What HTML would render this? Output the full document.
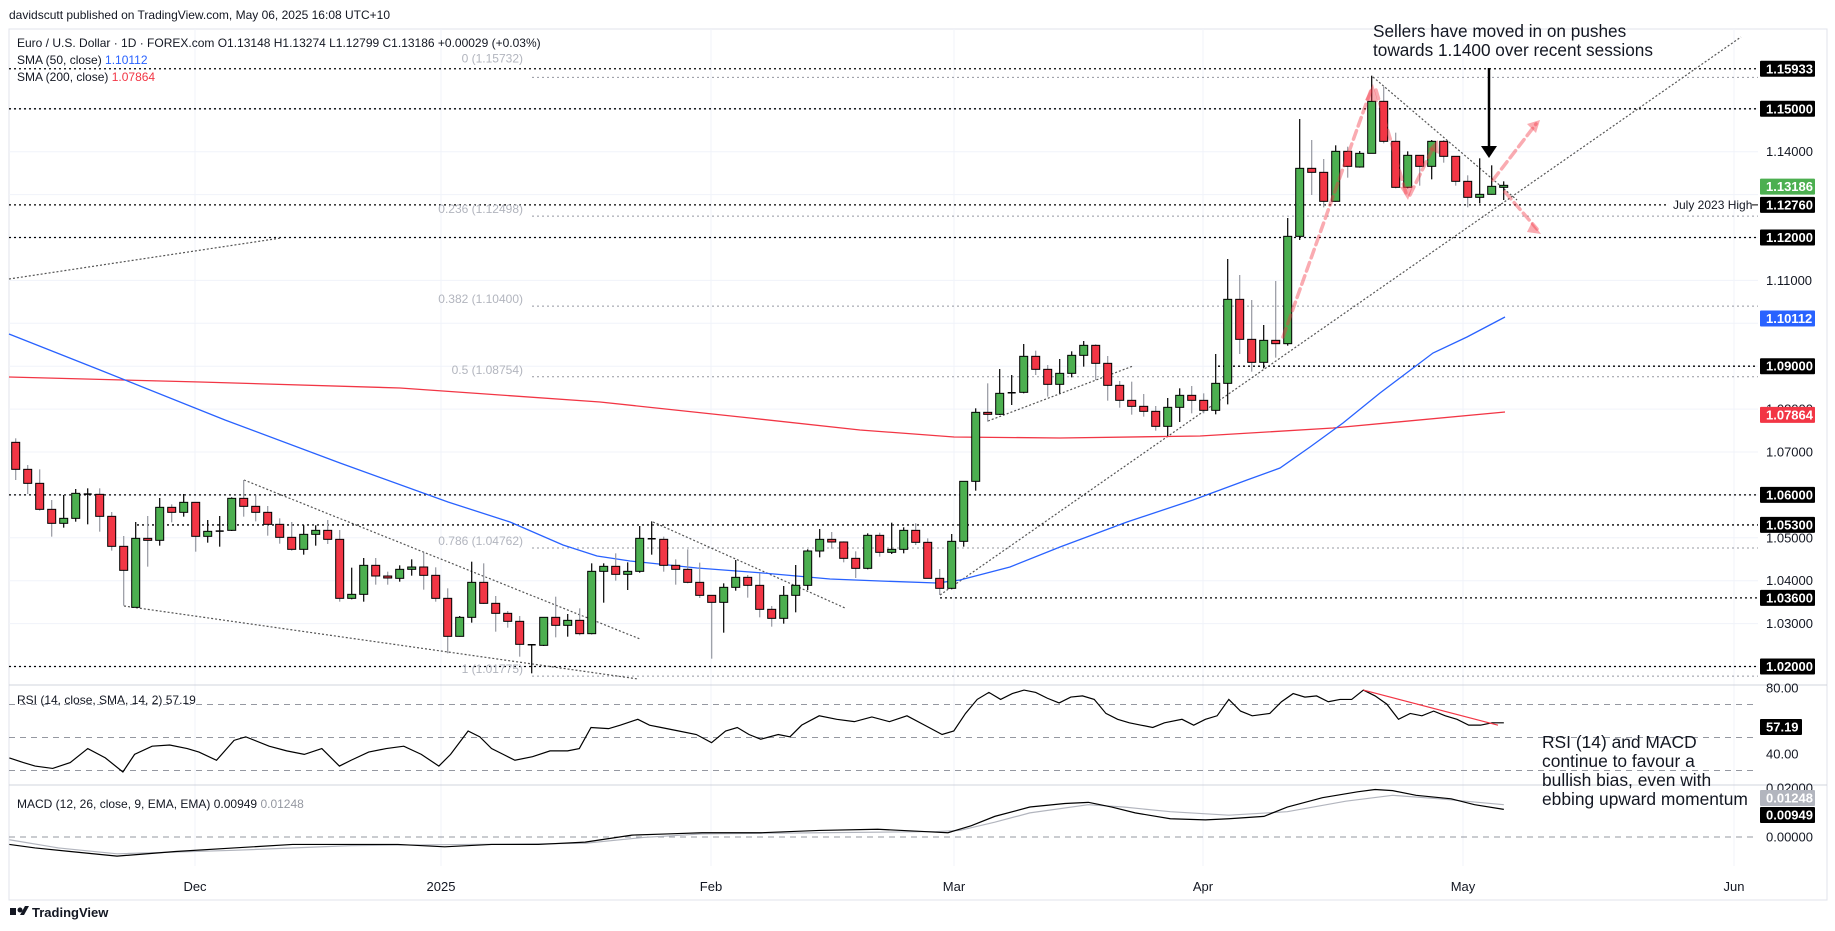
<!DOCTYPE html>
<html><head><meta charset="utf-8"><style>
html,body{margin:0;padding:0;background:#fff;}
svg{display:block;font-family:"Liberation Sans",sans-serif;}
</style></head><body>
<svg id="s" width="1835" height="931" viewBox="0 0 1835 931" xmlns="http://www.w3.org/2000/svg">
<rect width="1835" height="931" fill="#fff"/>
<text x="9" y="19" font-size="12" fill="#131722">davidscutt published on TradingView.com, May 06, 2025 16:08 UTC+10</text>
<rect x="9" y="29" width="1818" height="871" fill="none" stroke="#e0e3eb"/>
<g id="grid" stroke="#f0f3fa" stroke-width="1"></g>
<line x1="9" y1="685" x2="1827" y2="685" stroke="#d1d4dc"/>
<line x1="9" y1="785" x2="1827" y2="785" stroke="#d1d4dc"/>
<g id="hl"></g>
<g id="fib" font-size="12" fill="#b2b5be"></g>
<g id="tl" stroke="#555" stroke-width="1.2" stroke-dasharray="2,2" fill="none">
<line x1="9" y1="279" x2="281" y2="238"/>
<line x1="244" y1="480" x2="640" y2="639"/>
<line x1="124" y1="606" x2="638" y2="679"/>
<line x1="653" y1="522" x2="845" y2="608"/>
<line x1="940" y1="595" x2="1741" y2="37"/>
<line x1="988" y1="421" x2="1133" y2="366"/>
<line x1="1373" y1="77" x2="1517" y2="200"/>
</g>
<polyline fill="none" stroke="#f23645" stroke-width="1.3" points="9,377 200,382 400,388 600,402 750,418 860,430 954,437 1060,438 1200,436 1333,428 1505,412"/>
<polyline fill="none" stroke="#2962ff" stroke-width="1.3" points="9,334 100,370 225,420 340,463 448,502 510,522 563,545 597,556 630,561 697,568 763,573 830,579 880,581 937,583 960,580 1010,567 1060,547 1127,522 1193,500 1247,480 1280,468 1310,447 1343,423 1380,393 1433,353 1467,337 1505,317"/>
<g id="cd"></g>
<g stroke="rgba(242,54,69,0.42)" stroke-width="3.5" stroke-dasharray="9,5" fill="none" stroke-linecap="round">
<line x1="1283" y1="337" x2="1371" y2="90"/>
<line x1="1376" y1="90" x2="1406" y2="193"/>
<line x1="1410" y1="195" x2="1434" y2="146"/>
<line x1="1493" y1="180" x2="1536" y2="124"/>
<line x1="1505" y1="192" x2="1537" y2="229"/>
</g>
<g fill="rgba(242,54,69,0.42)">
<polygon points="1373,84 1365,100 1378,102"/>
<polygon points="1408,200 1400,187 1413,186"/>
<polygon points="1438,140 1428,149 1439,154"/>
<polygon points="1540,120 1527,124 1536,133"/>
<polygon points="1541,234 1532,222 1527,232"/>
</g>
<line x1="1489" y1="68" x2="1489" y2="148" stroke="#000" stroke-width="2.5"/>
<polygon points="1481,146 1497,146 1489,158" fill="#000"/>
<text x="1373" y="37" font-size="17.2" fill="#131722">Sellers have moved in on pushes</text>
<text x="1373" y="56" font-size="17.2" fill="#131722">towards 1.1400 over recent sessions</text>
<text x="1673" y="209" font-size="12" fill="#131722">July 2023 High</text>
<g stroke-dasharray="6,5" stroke="#9598a1" stroke-width="1">
<line x1="9" y1="704.5" x2="1758" y2="704.5"/>
<line x1="9" y1="737.5" x2="1758" y2="737.5"/>
<line x1="9" y1="770.5" x2="1758" y2="770.5"/>
<line x1="9" y1="837" x2="1758" y2="837"/>
</g>
<g transform="scale(1.1703,1.1696)">
<polyline vector-effect="non-scaling-stroke" fill="none" stroke="#000" stroke-width="1.2" points="8,648 20,652 30,655 45,657 60,652 75,640 90,648 105,660 115,645 130,638 145,637 160,640 170,643 185,650 200,633 210,630 230,638 245,642 260,645 275,640 290,655 300,650 315,643 330,640 345,638 360,645 375,655 385,645 400,625 410,630 420,640 430,645 440,650 455,647 470,642 485,642 495,640 505,622 520,623 530,620 545,615 555,620 565,622 580,625 595,628 608,635 620,625 630,622 640,628 650,632 665,628 675,630 685,620 700,612 715,615 730,617 745,613 760,617 775,612 790,620 805,628 815,625 825,610 835,598 845,592 855,598 865,593 875,590 885,592 895,597 905,601 915,596 925,595 935,598 945,610 955,615 965,618 975,620 985,622 995,618 1010,615 1020,620 1030,615 1040,612 1050,598 1060,608 1070,612 1085,610 1095,600 1105,593 1115,596 1125,595 1135,600 1145,598 1155,598 1165,590 1175,595 1185,602 1195,615 1205,610 1215,612 1225,608 1235,612 1245,615 1255,620 1265,620 1275,618 1285,618"/>
<line vector-effect="non-scaling-stroke" x1="1165" y1="590" x2="1280" y2="620" stroke="#f23645" stroke-width="1.2"/>
<polyline vector-effect="non-scaling-stroke" fill="none" stroke="#b2b5be" stroke-width="1.2" points="8,718 50,725 100,730 200,727 300,723 400,722 500,721 550,716 600,713 700,712 800,711 820,710 850,703 880,695 930,688 960,690 1000,694 1050,697 1100,694 1150,685 1190,680 1230,683 1285,688"/>
<polyline vector-effect="non-scaling-stroke" fill="none" stroke="#000" stroke-width="1.2" points="8,722 30,725 60,728 100,732 150,728 200,725 250,722 300,722 340,722 380,724 420,722 460,722 500,720 520,717 540,714 570,713 600,712 650,712 700,710 750,709 790,711 810,712 830,706 850,698 880,690 910,687 930,686 950,690 970,695 1000,700 1030,701 1050,700 1080,698 1100,690 1130,682 1160,677 1175,675 1190,676 1210,680 1240,683 1260,688 1285,692"/>
</g>
<text x="1542" y="748" font-size="17.4" fill="#131722">RSI (14) and MACD</text>
<text x="1542" y="767" font-size="17.4" fill="#131722">continue to favour a</text>
<text x="1542" y="786" font-size="17.4" fill="#131722">bullish bias, even with</text>
<text x="1542" y="805" font-size="17.4" fill="#131722">ebbing upward momentum</text>
<g font-size="12" fill="#131722">
<text x="17" y="47">Euro / U.S. Dollar · 1D · FOREX.com  O1.13148  H1.13274  L1.12799  C1.13186  +0.00029 (+0.03%)</text>
<text x="17" y="64">SMA (50, close) <tspan fill="#2962ff">1.10112</tspan></text>
<text x="17" y="81">SMA (200, close) <tspan fill="#f23645">1.07864</tspan></text>
<text x="17" y="704">RSI (14, close, SMA, 14, 2) 57.19</text>
<text x="17" y="808">MACD (12, 26, close, 9, EMA, EMA) 0.00949 <tspan fill="#9598a1">0.01248</tspan></text>
</g>
<g id="ax" font-size="13"></g>
<g font-size="13" fill="#131722" text-anchor="middle">
<text x="195" y="891">Dec</text><text x="441" y="891">2025</text><text x="711" y="891">Feb</text><text x="954" y="891">Mar</text><text x="1203" y="891">Apr</text><text x="1463" y="891">May</text><text x="1734" y="891">Jun</text>
</g>
<g transform="translate(10,906)"><rect x="0" y="2" width="6" height="7" fill="#131722"/><circle cx="10" cy="4" r="2.5" fill="#131722"/><polygon points="10,9 15,0 19,0 14,9" fill="#131722"/></g>
<text x="32" y="917" font-size="13" font-weight="bold" fill="#131722">TradingView</text>
</svg>
<script>
var NS="http://www.w3.org/2000/svg";
function el(p,t,a,txt){var e=document.createElementNS(NS,t);for(var k in a)e.setAttribute(k,a[k]);if(txt!==undefined)e.textContent=txt;p.appendChild(e);return e;}
function Y(p){return 237.5-(p-1.12)*4290;}
var g=document.getElementById('grid');
for(var p=1.02;p<=1.1501;p+=0.01){el(g,'line',{x1:9,x2:1758,y1:Y(p),y2:Y(p)});}
[195,441,711,954,1203,1463,1734].forEach(function(x){el(g,'line',{x1:x,x2:x,y1:29,y2:866});});
var hl=document.getElementById('hl');
[[1.15933,9],[1.15,9],[1.1276,9,1668],[1.12,9],[1.09,1218],[1.06,9],[1.053,137],[1.036,940],[1.02,9]].forEach(function(a){el(hl,'line',{x1:a[1],x2:a[2]||1758,y1:Y(a[0]),y2:Y(a[0]),stroke:'#000','stroke-width':1.3,'stroke-dasharray':'2,3'});});
el(hl,'line',{x1:1752,x2:1758,y1:Y(1.1276),y2:Y(1.1276),stroke:'#000'});
var fb=document.getElementById('fib');
[["0 (1.15732)",1.15732,-12],["0.236 (1.12498)",1.12498,0],["0.382 (1.10400)",1.104,0],["0.5 (1.08754)",1.08754,0],["0.786 (1.04762)",1.04762,0],["1 (1.01775)",1.01775,0]].forEach(function(a){var y=Y(a[1]);el(fb,'line',{x1:532,x2:1758,y1:y,y2:y,stroke:'#9598a1','stroke-dasharray':'2,3'});el(fb,'text',{x:523,y:y-3+a[2],'text-anchor':'end'},a[0]);});
var Z=[[420,[[67,148,55,180,'r'],[148,190,135,222,'r'],[190,268,148,272,'r'],[268,310,240,350,'r'],[295,310,225,323,'g'],[220,295,207,305,'g'],[220,223,205,313,'d'],[223,289,205,335,'r'],[289,379,276,392,'r'],[379,451,348,557,'r'],[355,562,306,562,'g'],[355,361,288,440,'r'],[262,361,234,377,'g'],[262,277,253,307,'r'],[247,277,222,290,'g'],[247,349,247,395,'r'],[334,349,300,368,'g'],[331,333,288,380,'d'],[235,331,232,333,'g'],[235,259,180,290,'r'],[259,277,226,304,'r'],[277,313,258,347,'r'],[313,352,295,371,'r'],[352,388,306,392,'r'],[343,388,316,404,'g'],[331,343,316,377,'g'],[331,358,300,372,'r'],[358,535,330,545,'r'],[523,535,443,538,'g'],[436,523,414,545,'g'],[436,468,414,494,'r'],[468,474,455,494,'r'],[448,475,436,485,'g'],[441,448,418,467,'g'],[441,466,397,509,'r']]],
[480,[[286,355,262,365,'r'],[355,469,325,520,'r'],[412,469,408,470,'g'],[307,412,245,428,'g'],[307,370,250,372,'r'],[370,400,348,455,'r'],[400,424,393,443,'r'],[424,493,408,530,'r'],[492,494,493,580,'d'],[412,496,412,498,'g'],[412,436,350,472,'r'],[421,436,402,470,'g'],[421,461,385,466,'r'],[274,461,250,463,'g'],[259,274,250,368,'g'],[259,283,220,302,'r'],[274,283,247,330,'g'],[175,274,138,278,'g'],[174,176,124,224,'d'],[178,256,170,275,'r'],[256,268,238,314,'r'],[268,307,208,310,'r'],[307,346,248,354,'r'],[346,367,346,536,'r'],[322,367,310,458,'g'],[292,322,240,332,'g'],[292,316,285,353,'r'],[316,388,280,412,'r'],[388,415,378,440,'r'],[346,415,318,431,'g'],[316,346,255,397,'g'],[213,316,208,330,'g'],[178,213,147,232,'g'],[178,186,156,206,'r'],[186,235,184,247,'r'],[235,265,214,294,'r'],[166,265,160,268,'g']]],
[330,[[616,667,608,680,'r'],[658,667,578,672,'g'],[601,658,592,670,'g'],[601,637,580,645,'r'],[637,745,625,745,'r'],[745,775,717,795,'r'],[634,775,612,778,'g'],[454,634,454,650,'g'],[247,454,235,482,'g'],[247,253,160,275,'r'],[190,253,117,255,'g'],[186,188,135,225,'d'],[79,187,42,190,'g'],[79,118,62,135,'r'],[118,163,105,200,'r'],[130,163,87,190,'g'],[76,130,64,142,'g'],[46,76,33,110,'g'],[46,100,43,150,'r'],[100,166,78,212,'r'],[166,211,153,233,'r'],[211,229,155,254,'r'],[229,244,192,260,'r'],[244,289,228,302,'r'],[232,289,204,318,'g'],[196,232,175,276,'g'],[196,211,168,250,'r']]],
[60,[[1021,1051,1000,1060,'r'],[970,1051,882,1063,'g'],[718,970,597,1033,'g'],[718,838,645,882,'r'],[838,907,720,935,'r'],[841,907,795,925,'g'],[841,851,663,893,'r'],[529,851,474,857,'g'],[325,529,177,540,'g'],[325,337,240,405,'r'],[337,424,297,442,'r'],[274,424,256,425,'g'],[274,319,260,353,'r'],[280,321,273,323,'g'],[124,280,47,280,'g'],[124,244,80,250,'r'],[244,382,218,385,'r'],[286,382,274,385,'g'],[286,319,285,377,'r'],[244,319,240,358,'g'],[244,289,240,308,'r'],[289,364,288,377,'r'],[364,412,346,442,'r'],[403,412,295,430,'g'],[379,403,316,404,'g'],[376,382,364,420,'g']]]];
var cd=document.getElementById('cd'),n=0;
Z.forEach(function(z){var o=z[0];z[1].forEach(function(c){var x=15.7+n*12;n++;
var bt=o+c[0]/3,bb=o+c[1]/3,wt=o+c[2]/3,wb=o+c[3]/3;
el(cd,'line',{x1:x,x2:x,y1:wt,y2:wb,stroke:c[4]=='r'?'#9598a1':'#000','stroke-width':1.2});
if(c[4]=='d'){el(cd,'rect',{x:x-4,y:bt,width:8,height:Math.max(1.5,bb-bt),fill:'#000'});}
else el(cd,'rect',{x:x-4,y:bt,width:8,height:Math.max(1,bb-bt),fill:c[4]=='r'?'#f23645':'#4caf50',stroke:'#000','stroke-width':1});
});});
var ax=document.getElementById('ax');
function lab(y,t,bg,w){if(bg){el(ax,'rect',{x:1760,y:y-8,width:w||55,height:16,fill:bg,rx:1});el(ax,'text',{x:1766,y:y+4.5,fill:'#fff','font-weight':'bold'},t);}else el(ax,'text',{x:1766,y:y+4.5,fill:'#131722'},t);}
[[1.14,'1.14000'],[1.11,'1.11000'],[1.08,'1.08000'],[1.07,'1.07000'],[1.05,'1.05000'],[1.04,'1.04000'],[1.03,'1.03000']].forEach(function(a){lab(Y(a[0]),a[1]);});
lab(688,'80.00');lab(754,'40.00');lab(788,'0.02000');lab(837,'0.00000');
[[1.15933,'1.15933','#000'],[1.15,'1.15000','#000'],[1.13186,'1.13186','#4caf50'],[1.1276,'1.12760','#000'],[1.12,'1.12000','#000'],[1.10112,'1.10112','#2962ff'],[1.09,'1.09000','#000'],[1.07864,'1.07864','#f23645'],[1.06,'1.06000','#000'],[1.053,'1.05300','#000'],[1.036,'1.03600','#000'],[1.02,'1.02000','#000']].forEach(function(a){lab(Y(a[0]),a[1],a[2]);});
lab(727,'57.19','#000',42);lab(798,'0.01248','#b2b5be');lab(815,'0.00949','#000');
</script>
</body></html>
